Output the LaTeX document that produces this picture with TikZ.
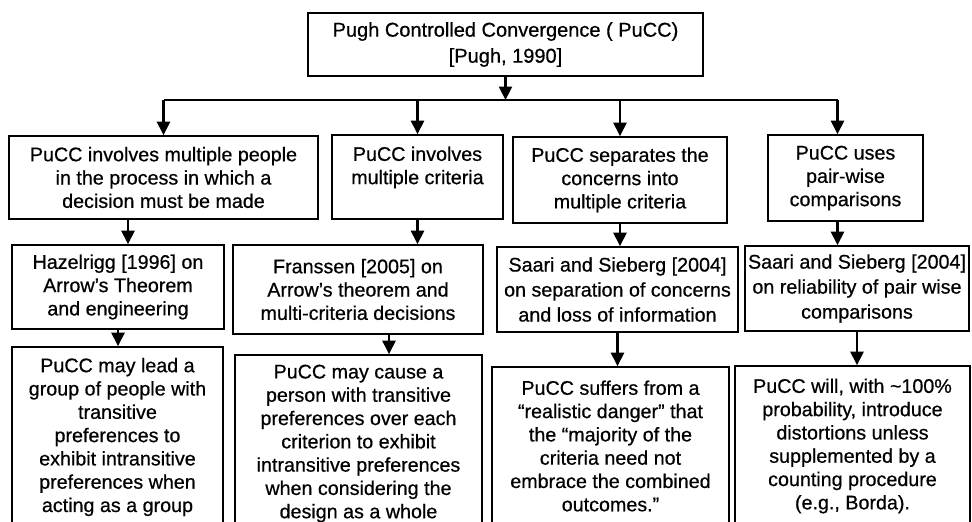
\documentclass[tikz,border=0pt]{standalone}
\usepackage{fontspec}
\setmainfont[FakeBold=0.6]{Liberation Sans}
\usetikzlibrary{arrows.meta}

\tikzset{
	box/.style={draw, line width=1.6pt, align=center, inner sep=0pt, font=\fontsize{19.7}{23.3}\selectfont},
	arr/.style={->, >={Triangle[width=13pt, length=13.5pt]}, line width=2.4pt},
}

\begin{document}
\begin{tikzpicture}[x=1pt, y=-1pt]
				\clip (0, 0) rectangle (972, 522);
				% top
				\node[box, font=\fontsize{20}{26}\selectfont, minimum width=395, minimum height=63] (T)at(505.5, 44.5) {Pugh Controlled Convergence ( PuCC)\\ {[Pugh, 1990]}};
				\coordinate (bus)at(0, 100);
				% second row
				\node[box, minimum width=309, minimum height=83] (P1)at(163.5, 177.5) {PuCC involves multiple people\\ in the process in which a\\ decision must be made};
				\node[box, minimum width=171, minimum height=84] (P2)at(417.5, 177) {PuCC involves\\ multiple criteria\\ ~};
				\node[box, minimum width=214, minimum height=86] (P3)at(620, 180) {PuCC separates the\\ concerns into\\ multiple criteria};
				\node[box, minimum width=155, minimum height=86] (P4)at(845.5, 178) {PuCC uses\\ pair-wise\\ comparisons};
				% third row
				\node[box, minimum width=212, minimum height=84] (H)at(118, 287) {Hazelrigg [1996] on\\ Arrow's Theorem\\ and engineering};
				\node[box, minimum width=250, minimum height=89] (F)at(358, 289.5) {Franssen [2005] on\\ Arrow's theorem and\\ multi-criteria decisions};
				\node[box, font=\fontsize{19.7}{25}\selectfont, minimum width=241, minimum height=85] (S1)at(617.5, 289.5) {Saari and Sieberg [2004]\\ on separation of concerns\\ and loss of information};
				\node[box, font=\fontsize{19.7}{25}\selectfont, minimum width=224, minimum height=85] (S2)at(857, 288.5) {Saari and Sieberg [2004]\\ on reliability of pair wise\\ comparisons};
				% bottom row
				\node[box, minimum width=211, minimum height=180] (B1)at(117.5, 437) {PuCC may lead a\\ group of people with\\ transitive\\ preferences to\\ exhibit intransitive\\ preferences when\\ acting as a group};
				\node[box, minimum width=247, minimum height=177] (B2)at(358.5, 443.5) {PuCC may cause a\\ person with transitive\\ preferences over each\\ criterion to exhibit\\ intransitive preferences\\ when considering the\\ design as a whole};
				\node[box, minimum width=237, minimum height=158] (B3)at(610.5, 446) {PuCC suffers from a\\ ``realistic danger'' that\\ the ``majority of the\\ criteria need not\\ embrace the combined\\ outcomes.''};
				\node[box, minimum width=235, minimum height=160] (B4)at(852.5, 446) {PuCC will, with \textasciitilde100\%\\ probability, introduce\\ distortions unless\\ supplemented by a\\ counting procedure\\ (e.g., Borda).};
				% connectors
				\draw[arr] (T.south) -- (T.south |- bus);
				\draw[line width=1.7pt] (bus -| P1.north) -- ([xshift=-8pt]bus -| P4.north);
				\draw[arr] (bus -| P1.north) -- (P1.north);
				\draw[arr] (bus -| P2.north) -- (P2.north);
				\draw[arr] (bus -| P3.north) -- (P3.north);
				\draw[arr] ([xshift=-8pt]bus -| P4.north) -- ([xshift=-8pt]P4.north);
				\draw[arr] ([xshift=10pt]H.north |- P1.south) -- ([xshift=10pt]H.north);
				\draw[arr] (P2.south) -- (P2.south |- F.north);
				\draw[arr] (P3.south) -- (P3.south |- S1.north);
				\draw[arr] ([xshift=-8pt]P4.south) -- ([xshift=-8pt]P4.south |- S2.north);
				\draw[arr] (H.south) -- (H.south |- B1.north);
				\draw[arr] ([xshift=31pt]F.south) -- ([xshift=31pt]F.south |- B2.north);
				\draw[arr] (S1.south) -- (S1.south |- B3.north);
				\draw[arr] (S2.south) -- (S2.south |- B4.north);
			\end{tikzpicture}
\end{document}
